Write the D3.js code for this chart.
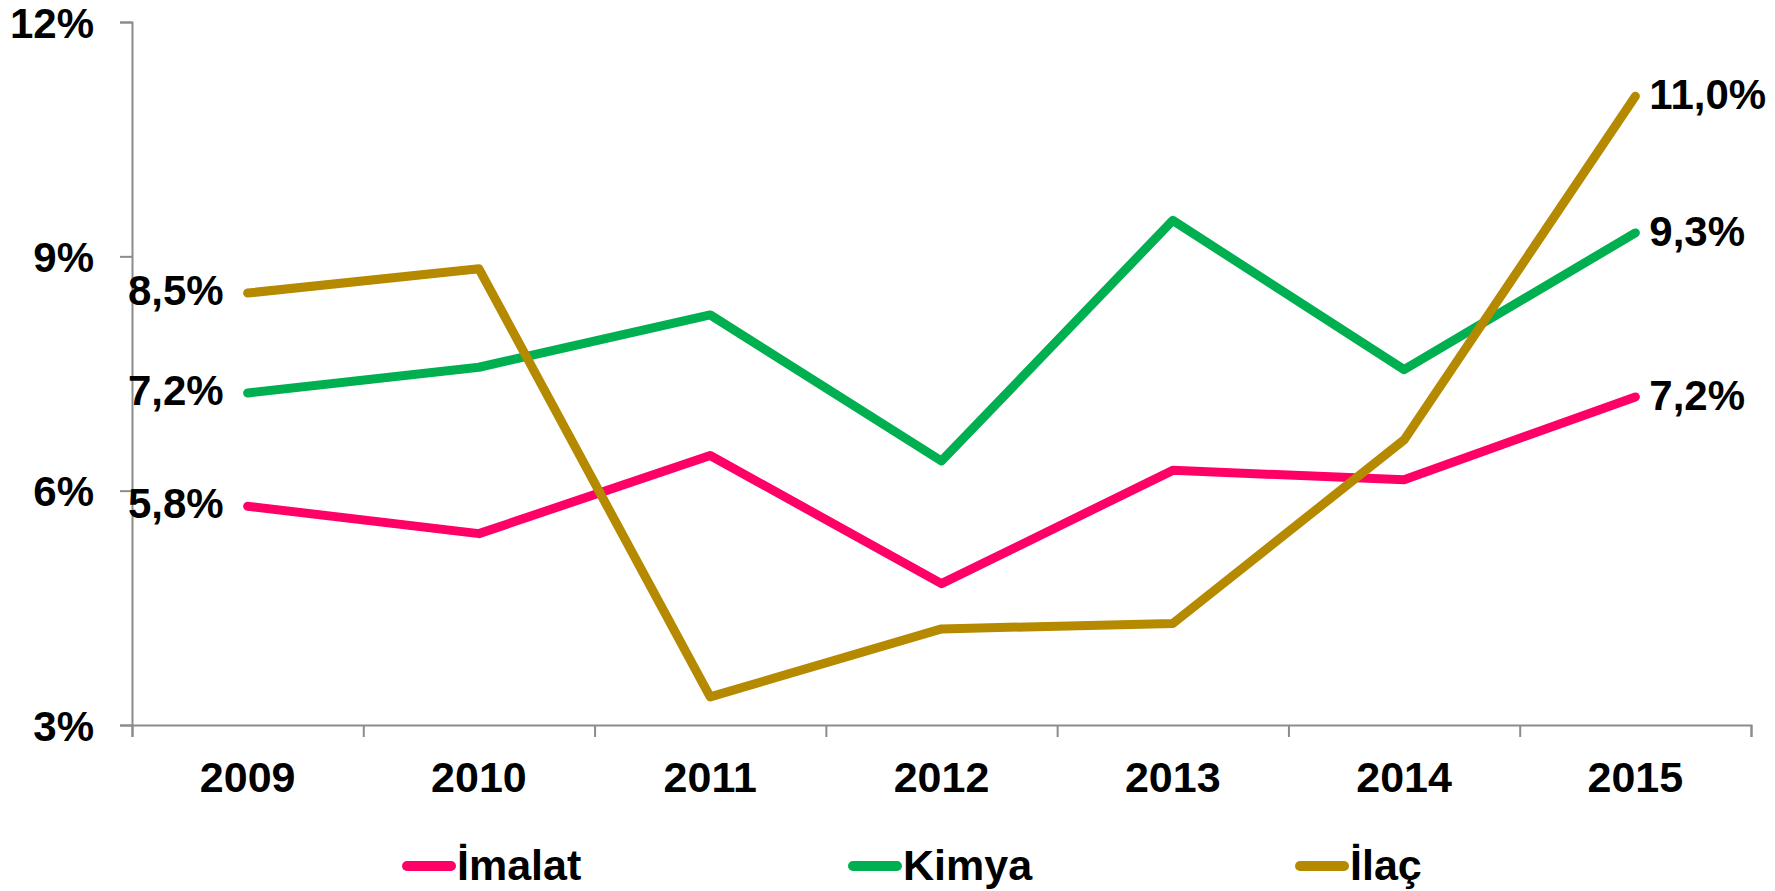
<!DOCTYPE html>
<html>
<head>
<meta charset="utf-8">
<script src="https://cdn.jsdelivr.net/npm/d3@7"></script>
<style>
    html, body { margin: 0; padding: 0; background: #fff; }
    #container { width: 1775px; height: 891px; }
    text { font-family: 'Liberation Sans', Arial, sans-serif; font-weight: bold; fill: #000; }
</style>
</head>
<body>
<div id="container"></div>
<script>
const years = ['2009', '2010', '2011', '2012', '2013', '2014', '2015'];
const yTicks = [3, 6, 9, 12];

const imalat = [5.8, 5.45, 6.45, 4.81, 6.26, 6.14, 7.2];
const kimya = [7.25, 7.58, 8.25, 6.38, 9.46, 7.55, 9.3];
const ilac = [8.53, 8.84, 3.36, 4.23, 4.30, 6.65, 11.05];

const seriesNames = ['İmalat', 'Kimya', 'İlaç'];
const seriesColors = ['#ff0066', '#00b050', '#b58900'];
const firstLabels = ['5,8%', '7,2%', '8,5%'];
const lastLabels = ['7,2%', '9,3%', '11,0%'];

const series = [imalat, kimya, ilac].map((values, i) => ({
    name: seriesNames[i],
    color: seriesColors[i],
    values: values,
    first: firstLabels[i],
    last: lastLabels[i]
}));

const width = 1775, height = 891;
const fontSize = 42;
const svg = d3.select('#container').append('svg')
    .attr('width', width)
    .attr('height', height);

// band edges carry the ticks, points sit in the middle of each band
const x = d3.scaleLinear().domain([0, years.length]).range([132, 1751]);
const xBand = d3.scaleBand().domain(years).range([132, 1751]);
const y = d3.scaleLinear().domain([3, 12]).range([725, 22]);

/* y axis */
const yAxis = svg.append('g')
    .attr('transform', `translate(${x(0)},0)`)
    .call(d3.axisLeft(y).tickValues(yTicks).tickSize(12).tickPadding(26).tickFormat((d) => d + '%'));
yAxis.select('.domain').attr('stroke', '#8c8c8c').attr('stroke-width', 2);
yAxis.selectAll('.tick line').attr('stroke', '#8c8c8c').attr('stroke-width', 2);
yAxis.selectAll('.tick text').attr('font-size', fontSize).attr('font-family', null).attr('dy', '0.36em');

/* x axis: ticks at band edges */
const xAxis = svg.append('g')
    .attr('transform', `translate(0,${y(3)})`)
    .call(d3.axisBottom(x).tickValues(d3.range(years.length + 1)).tickSize(12).tickFormat(''));
xAxis.select('.domain').attr('stroke', '#8c8c8c').attr('stroke-width', 2);
xAxis.selectAll('.tick line').attr('stroke', '#8c8c8c').attr('stroke-width', 2);

/* x labels */
const xLabels = svg.append('g')
    .attr('transform', `translate(0,${y(3)})`)
    .call(d3.axisBottom(xBand).tickSize(0).tickPadding(36));
xLabels.select('.domain').remove();
xLabels.selectAll('.tick text').attr('font-size', 43).attr('font-family', null);

/* lines */
const line = d3.line()
    .x((d, i) => x(i + 0.5))
    .y((d) => y(d));

const lines = svg.append('g').attr('class', 'lines');
lines.selectAll('path')
    .data(series)
    .enter().append('path')
    .attr('d', (d) => line(d.values))
    .attr('fill', 'none')
    .attr('stroke', (d) => d.color)
    .attr('stroke-width', 9)
    .attr('stroke-linecap', 'round')
    .attr('stroke-linejoin', 'round');

/* end labels */
const labels = svg.append('g').attr('class', 'labels');
labels.selectAll('.first')
    .data(series)
    .enter().append('text')
    .attr('class', 'first')
    .attr('x', x(0.5) - 24)
    .attr('y', (d) => y(d.values[0]))
    .attr('dy', '0.28em')
    .attr('text-anchor', 'end')
    .attr('font-size', fontSize)
    .text((d) => d.first);

labels.selectAll('.last')
    .data(series)
    .enter().append('text')
    .attr('class', 'last')
    .attr('x', x(years.length - 0.5) + 14)
    .attr('y', (d) => y(d.values[d.values.length - 1]))
    .attr('dy', '0.3em')
    .attr('font-size', fontSize)
    .text((d) => d.last);

/* legend */
const legendX = [403, 849, 1296];
const legend = svg.append('g').attr('class', 'legend');
const items = legend.selectAll('g')
    .data(series)
    .enter().append('g')
    .attr('transform', (d, i) => `translate(${legendX[i]},866)`);
items.append('line')
    .attr('x1', 4).attr('x2', 48)
    .attr('stroke', (d) => d.color)
    .attr('stroke-width', 10)
    .attr('stroke-linecap', 'round');
items.append('text')
    .attr('x', 54)
    .attr('dy', '0.33em')
    .attr('font-size', 43)
    .text((d) => d.name);
</script>
</body>
</html>
